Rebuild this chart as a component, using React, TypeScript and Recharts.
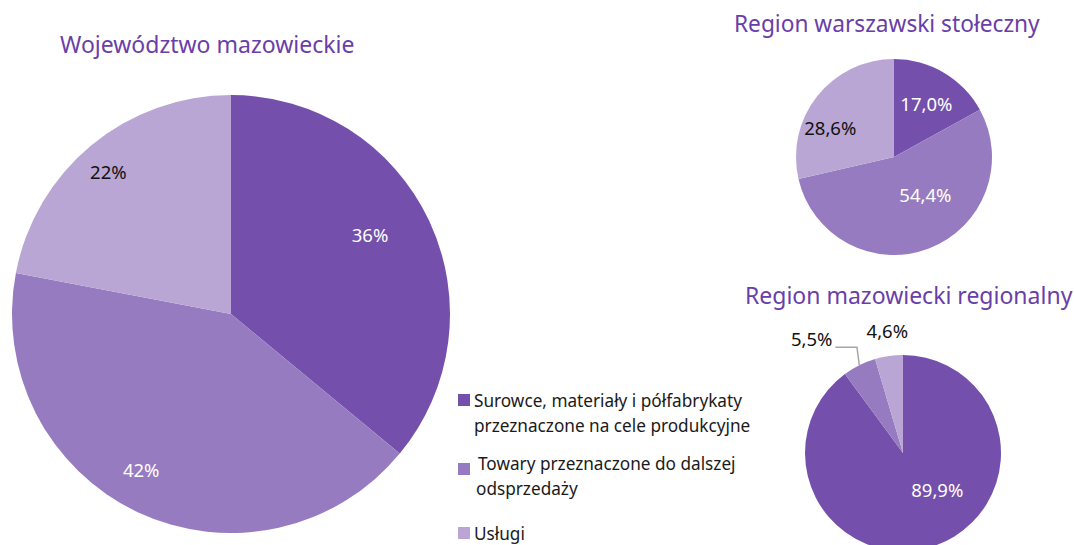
import { PieChart, Pie, Cell } from "recharts";

const categories = [
  "Surowce, materiały i półfabrykaty przeznaczone na cele produkcyjne",
  "Towary przeznaczone do dalszej odsprzedaży",
  "Usługi",
];
const legendLines = [
  ["Surowce, materiały i półfabrykaty", "przeznaczone na cele produkcyjne"],
  ["Towary przeznaczone do dalszej", "odsprzedaży"],
  ["Usługi"],
];
const mazowieckieValues = [36, 42, 22];
const mazowieckieLabels = ["36%", "42%", "22%"];
const warszawskiValues = [17.0, 54.4, 28.6];
const warszawskiLabels = ["17,0%", "54,4%", "28,6%"];
const regionalnyValues = [89.9, 5.5, 4.6];
const regionalnyLabels = ["89,9%", "5,5%", "4,6%"];

const COLORS = ["#7450ac", "#977bc0", "#b9a6d4"];
const TITLE_COLOR = "#6a3ea8";
const FONT = "'Noto Sans', 'Open Sans', sans-serif";
const LABEL_SIZE = 18.5;

const toData = (vals: number[], labels: string[]) =>
  vals.map((v, i) => ({ name: categories[i], value: v, label: labels[i] }));

const mazData = toData(mazowieckieValues, mazowieckieLabels);
const warData = toData(warszawskiValues, warszawskiLabels);
const regData = toData(regionalnyValues, regionalnyLabels);

// label placement as fractions of radius from centre
type LabelSpec = { dx: number; dy: number; fill: string; leader?: boolean };

function makeLabel(specs: LabelSpec[]) {
  return (props: any) => {
    const { cx, cy, outerRadius, index, payload, midAngle } = props;
    const s = specs[index];
    const x = cx + s.dx * outerRadius;
    const y = cy + s.dy * outerRadius;
    const text = payload?.label ?? props.label;
    if (s.leader) {
      const rad = (-midAngle * Math.PI) / 180;
      const ex = cx + outerRadius * Math.cos(rad);
      const ey = cy + outerRadius * Math.sin(rad);
      const bx = cx - 0.47 * outerRadius;
      const by = cy - 1.08 * outerRadius;
      const tx = cx - 0.69 * outerRadius;
      return (
        <g>
          <polyline
            points={`${ex},${ey} ${bx},${by} ${tx},${by}`}
            fill="none"
            stroke="#a6a6a6"
            strokeWidth={1.5}
          />
          <text
            x={tx - 3}
            y={by - 6}
            textAnchor="end"
            dominantBaseline="middle"
            fill={s.fill}
            fontSize={LABEL_SIZE}
            fontFamily={FONT}
          >
            {text}
          </text>
        </g>
      );
    }
    return (
      <text
        x={x}
        y={y}
        textAnchor="middle"
        dominantBaseline="middle"
        fill={s.fill}
        fontSize={LABEL_SIZE}
        fontFamily={FONT}
      >
        {text}
      </text>
    );
  };
}

const mazLabel = makeLabel([
  { dx: 0.635, dy: -0.35, fill: "#ffffff" },
  { dx: -0.41, dy: 0.72, fill: "#ffffff" },
  { dx: -0.56, dy: -0.64, fill: "#111111" },
]);
const warLabel = makeLabel([
  { dx: 0.33, dy: -0.52, fill: "#ffffff" },
  { dx: 0.32, dy: 0.41, fill: "#ffffff" },
  { dx: -0.65, dy: -0.28, fill: "#111111" },
]);
const regLabel = makeLabel([
  { dx: 0.35, dy: 0.4, fill: "#ffffff" },
  { dx: 0, dy: 0, fill: "#111111", leader: true },
  { dx: -0.16, dy: -1.22, fill: "#111111" },
]);

const titleStyle: React.CSSProperties = {
  position: "absolute",
  fontFamily: FONT,
  fontSize: 23,
  color: TITLE_COLOR,
  whiteSpace: "nowrap",
  lineHeight: 1,
};

export default function App() {
  return (
    <div
      style={{
        position: "absolute",
        left: 0,
        top: 0,
        width: 1074,
        height: 545,
        background: "#fff",
        overflow: "hidden",
      }}
    >
      <PieChart
        width={1074}
        height={545}
        margin={{ top: 0, right: 0, bottom: 0, left: 0 }}
        style={{ position: "absolute", left: 0, top: 0 }}
      >
        <Pie
          data={mazData}
          dataKey="value"
          cx={231}
          cy={314}
          outerRadius={219}
          startAngle={90}
          endAngle={-270}
          stroke="none"
          label={mazLabel}
          labelLine={false}
          isAnimationActive={false}
        >
          {mazData.map((_, i) => (
            <Cell key={i} fill={COLORS[i]} />
          ))}
        </Pie>
        <Pie
          data={warData}
          dataKey="value"
          cx={894}
          cy={157}
          outerRadius={98}
          startAngle={90}
          endAngle={-270}
          stroke="none"
          label={warLabel}
          labelLine={false}
          isAnimationActive={false}
        >
          {warData.map((_, i) => (
            <Cell key={i} fill={COLORS[i]} />
          ))}
        </Pie>
        <Pie
          data={regData}
          dataKey="value"
          cx={903}
          cy={453}
          outerRadius={98}
          startAngle={90}
          endAngle={-270}
          stroke="none"
          label={regLabel}
          labelLine={false}
          isAnimationActive={false}
        >
          {regData.map((_, i) => (
            <Cell key={i} fill={COLORS[i]} />
          ))}
        </Pie>
      </PieChart>

      <div style={{ ...titleStyle, left: 60, top: 33 }}>Województwo mazowieckie</div>
      <div style={{ ...titleStyle, left: 734, top: 13, fontSize: 22.7 }}>
        Region warszawski stołeczny
      </div>
      <div style={{ ...titleStyle, left: 745, top: 284 }}>Region mazowiecki regionalny</div>

      {legendLines.map((lines, i) => {
        const tops = [388, 451, 521];
        return (
          <div
            key={i}
            style={{
              position: "absolute",
              left: 458,
              top: tops[i],
              fontFamily: FONT,
              fontSize: 17.2,
              color: "#1a1a1a",
              lineHeight: "25px",
            }}
          >
            <span
              style={{
                position: "absolute",
                left: 0,
                top: i === 1 ? 12 : 6,
                width: 12,
                height: 12,
                background: COLORS[i],
              }}
            />
            <div style={{ marginLeft: i === 1 ? 20 : 16 }}>
              {lines.map((l, j) => (
                <div key={j} style={{ marginLeft: i === 1 && j === 1 ? -2 : 0 }}>
                  {l}
                </div>
              ))}
            </div>
          </div>
        );
      })}
    </div>
  );
}
